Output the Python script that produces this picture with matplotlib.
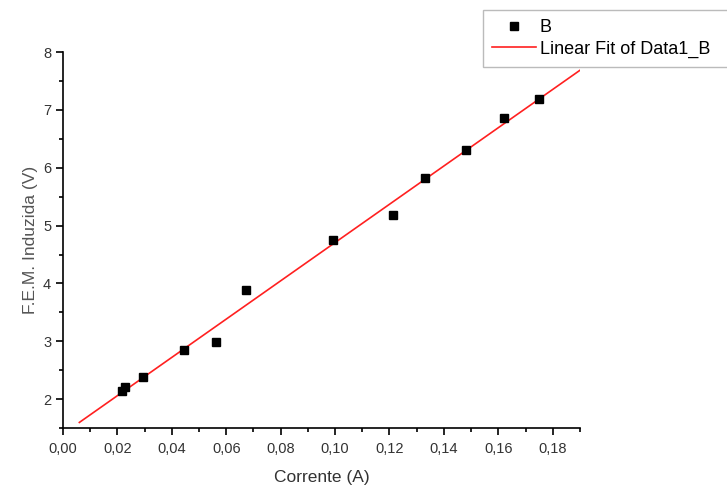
import matplotlib
matplotlib.use("Agg")
import matplotlib.pyplot as plt
import numpy as np
from matplotlib.ticker import FuncFormatter, MultipleLocator

plt.rcParams['font.family'] = ['Liberation Sans', 'DejaVu Sans']

# measured current (A) and induced emf (V)
corrente = [0.0217, 0.0228, 0.0294, 0.0445, 0.0563, 0.0673,
            0.0993, 0.1213, 0.1331, 0.1482, 0.1621, 0.1750]
fem = [2.14, 2.21, 2.38, 2.85, 2.99, 3.88,
       4.76, 5.18, 5.82, 6.30, 6.86, 7.19]

fit_range = [0.006, 0.19]

slope, intercept = np.polyfit(corrente, fem, 1)
fit_x = np.array(fit_range)
fit_y = slope * fit_x + intercept

fig = plt.figure(figsize=(7.27, 4.91), dpi=100)
ax = fig.add_axes([0.0867, 0.128, 0.711, 0.766])

ax.plot(corrente, fem, 's', color='black', markersize=6, label='B', zorder=3)
ax.plot(fit_x, fit_y, '-', color='#ff2020', linewidth=1.2, label='Linear Fit of Data1_B')

ax.set_xlim(0.0, 0.19)
ax.set_ylim(1.5, 8.0)
ax.xaxis.set_major_locator(MultipleLocator(0.02))
ax.xaxis.set_minor_locator(MultipleLocator(0.01))
ax.yaxis.set_major_locator(MultipleLocator(1))
ax.yaxis.set_minor_locator(MultipleLocator(0.5))
ax.xaxis.set_major_formatter(FuncFormatter(lambda v, _: f"{v:.2f}".replace('.', ',')))
ax.yaxis.set_major_formatter(FuncFormatter(lambda v, _: f"{v:.0f}"))

for side in ('top', 'right'):
    ax.spines[side].set_visible(False)
for side in ('left', 'bottom'):
    ax.spines[side].set_linewidth(1.2)
ax.tick_params(which='major', direction='out', length=5, width=1.2,
               labelsize=10.5, labelcolor='#333333')
ax.tick_params(axis='x', which='major', pad=5)
ax.tick_params(which='minor', direction='out', length=3, width=1.2)

ax.set_xlabel('Corrente (A)', fontsize=12.5, color='#333333', labelpad=10)
ax.set_ylabel('F.E.M. Induzida (V)', fontsize=12.5, color='#555555', labelpad=4)

leg = ax.legend(loc='upper left', bbox_to_anchor=(0.664, 0.98, 0.4, 0.0), mode='expand',
                bbox_transform=fig.transFigure,
                fontsize=13, frameon=True, fancybox=False, borderpad=0.5,
                handlelength=2.45, labelspacing=0.25, handletextpad=0.2,
                borderaxespad=0.0)
leg.get_frame().set_edgecolor('#aaaaaa')
leg.get_frame().set_linewidth(1.0)

fig.savefig('out.png', dpi=100)
